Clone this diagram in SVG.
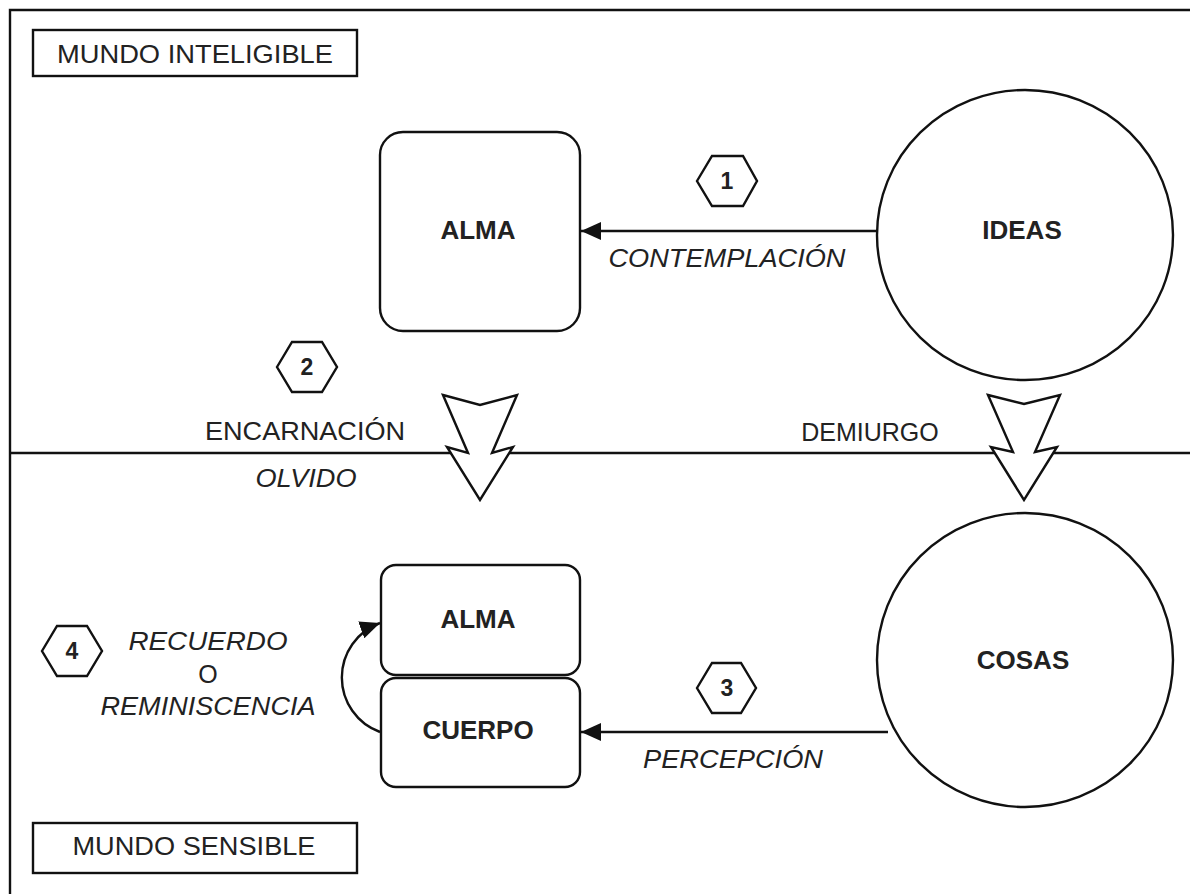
<svg xmlns="http://www.w3.org/2000/svg" width="1190" height="894" viewBox="0 0 1190 894">
<style>
.ln{fill:none;stroke:#111;stroke-width:2.4}
.bx{fill:#fff;stroke:#111;stroke-width:2.4}
.t{font-family:"Liberation Sans",Arial,sans-serif;font-size:25px;fill:#222;text-anchor:middle}
.b{font-weight:bold;font-size:26px}
.i{font-style:italic}
.h{font-family:"Liberation Sans",Arial,sans-serif;font-size:23px;font-weight:bold;fill:#222;text-anchor:middle}
</style>
<defs>
<marker id="ah" viewBox="0 0 20 18" refX="20" refY="9" markerWidth="20" markerHeight="18" markerUnits="userSpaceOnUse" orient="auto">
<path d="M0,0 L20,9 L0,18 Z" fill="#111"/>
</marker>
</defs>
<rect width="1190" height="894" fill="#fff"/>
<g id="frame">
<path class="ln" d="M10,894 L10,10 L1190,10"/>
<path class="ln" d="M10,453 L1190,453"/>
</g>
<g id="connectors">
<path class="ln" d="M877,231 L581,231" marker-end="url(#ah)"/>
<path class="ln" d="M888,732 L581,732" marker-end="url(#ah)"/>
<path class="ln" d="M380,732 A58,58 0 0 1 380,623" marker-end="url(#ah)"/>
<path class="bx" d="M443,395 L480,405 L517,395 L492,453 L513,447 L480,500 L447,447 L468,453 Z"/>
<path class="bx" d="M988,395 L1024,404 L1060,395 L1035,452 L1057,447 L1024,500 L991,447 L1013,452 Z"/>
</g>
<g id="mundo-inteligible">
<rect class="bx" x="33" y="30" width="324" height="46"/>
<text class="t" x="195" y="63" textLength="276" lengthAdjust="spacingAndGlyphs">MUNDO INTELIGIBLE</text>
</g>
<g id="mundo-sensible">
<rect class="bx" x="33" y="823" width="324" height="50"/>
<text class="t" x="194" y="855" textLength="243" lengthAdjust="spacingAndGlyphs">MUNDO SENSIBLE</text>
</g>
<g id="alma-top">
<rect class="bx" x="380" y="132" width="200" height="199" rx="23"/>
<text class="t b" x="478" y="239">ALMA</text>
</g>
<g id="ideas">
<ellipse class="bx" cx="1025" cy="235" rx="148" ry="145"/>
<text class="t b" x="1022" y="239">IDEAS</text>
</g>
<g id="alma-bottom">
<rect class="bx" x="381" y="565" width="199" height="110" rx="15"/>
<text class="t b" x="478" y="628">ALMA</text>
</g>
<g id="cuerpo">
<rect class="bx" x="381" y="678" width="199" height="109" rx="15"/>
<text class="t b" x="478" y="739">CUERPO</text>
</g>
<g id="cosas">
<ellipse class="bx" cx="1025" cy="660" rx="148" ry="147"/>
<text class="t b" x="1023" y="669">COSAS</text>
</g>
<g id="step1">
<polygon class="bx" points="697,181 712,156 743,156 757,181 743,206 712,206"/>
<text class="h" x="727" y="189">1</text>
</g>
<g id="step2">
<polygon class="bx" points="277,367 292,342 322,342 337,367 322,392 292,392"/>
<text class="h" x="307" y="375">2</text>
</g>
<g id="step3">
<polygon class="bx" points="697,688 712,663 741,663 756,688 741,713 712,713"/>
<text class="h" x="727" y="696">3</text>
</g>
<g id="step4">
<polygon class="bx" points="42,651 57,626 87,626 102,651 87,676 57,676"/>
<text class="h" x="72" y="659">4</text>
</g>
<g id="labels">
<text class="t i" x="727" y="267" textLength="237" lengthAdjust="spacingAndGlyphs">CONTEMPLACIÓN</text>
<text class="t" x="305" y="440" textLength="200" lengthAdjust="spacingAndGlyphs">ENCARNACIÓN</text>
<text class="t i" x="306" y="487" textLength="101" lengthAdjust="spacingAndGlyphs">OLVIDO</text>
<text class="t" x="870" y="441">DEMIURGO</text>
<text class="t i" x="208" y="650" textLength="159" lengthAdjust="spacingAndGlyphs">RECUERDO</text>
<text class="t" x="208" y="683">O</text>
<text class="t i" x="208" y="715" textLength="215" lengthAdjust="spacingAndGlyphs">REMINISCENCIA</text>
<text class="t i" x="733" y="768" textLength="180" lengthAdjust="spacingAndGlyphs">PERCEPCIÓN</text>
</g>
</svg>
